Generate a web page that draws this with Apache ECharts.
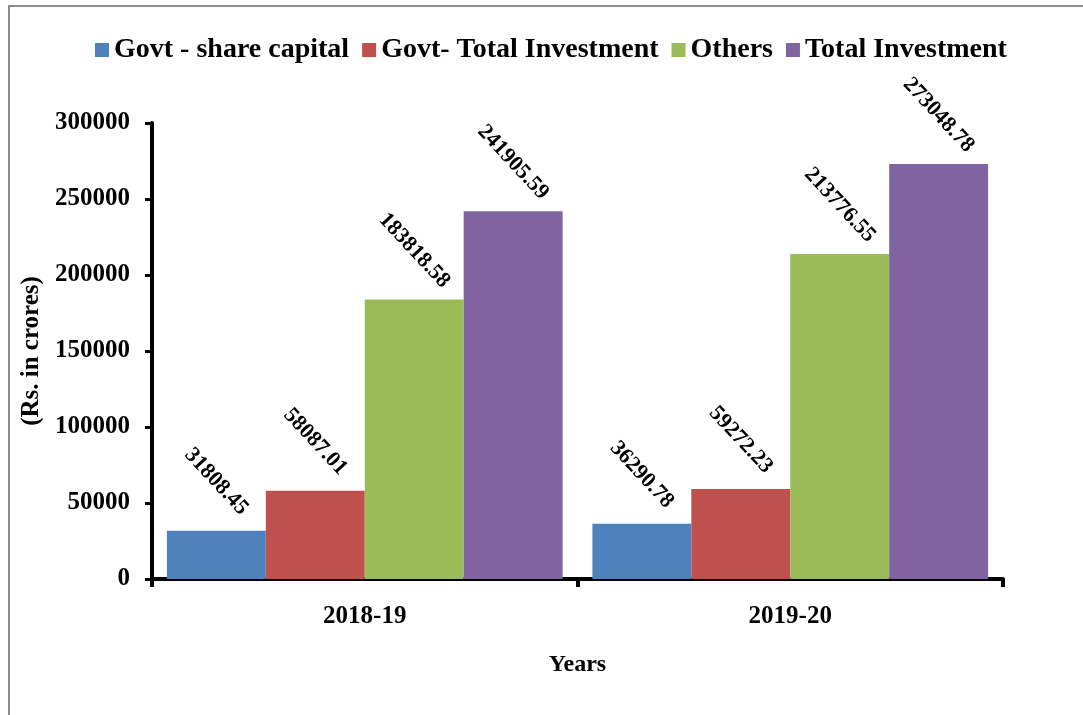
<!DOCTYPE html>
<html>
<head>
<meta charset="utf-8">
<script src="https://cdn.jsdelivr.net/npm/echarts@6/dist/echarts.min.js"></script>
<style>
  html, body { margin: 0; padding: 0; background: #fff; }
  #chart { width: 1083px; height: 715px; }
  .frame {
    position: absolute;
    left: 8px;
    top: 5px;
    width: 1100px;
    height: 740px;
    border: 2px solid #8c8c8c;
    pointer-events: none;
  }
</style>
</head>
<body>
<div id="chart"></div>
<div class="frame"></div>
<script>
const years = ['2018-19', '2019-20']
const seriesNames = ['Govt - share capital', 'Govt- Total Investment', 'Others', 'Total Investment']
const govtShareCapital = [31808.45, 36290.78]
const govtTotalInvestment = [58087.01, 59272.23]
const others = [183818.58, 213776.55]
const totalInvestment = [241905.59, 273048.78]
const colors = ['#4F81BD', '#C0504D', '#9BBB59', '#8064A2']

const font = '"Liberation Serif", "Times New Roman", serif'

const chart = echarts.init(document.getElementById('chart'))

const makeSeries = (name, data, color) => ({
  name,
  type: 'bar',
  data,
  barGap: '0%',
  barCategoryGap: '7%',
  itemStyle: { color },
  label: {
    show: true,
    position: 'top',
    distance: 49,
    rotate: -47,
    align: 'center',
    verticalAlign: 'middle',
    color: '#000',
    fontFamily: font,
    fontWeight: 'bold',
    fontSize: 22,
    formatter: (p) => p.value.toFixed(2),
  },
})

chart.setOption({
  animation: false,
  color: colors,
  legend: {
    left: 95,
    top: 36,
    padding: 0,
    itemWidth: 14,
    itemHeight: 14,
    itemGap: 13,
    icon: 'rect',
    textStyle: { fontFamily: font, fontWeight: 'bold', fontSize: 28, color: '#000' },
  },
  grid: { left: 152, right: 80, top: 123, bottom: 136 },
  xAxis: {
    type: 'category',
    data: years,
    name: 'Years',
    nameLocation: 'middle',
    nameGap: 74,
    nameTextStyle: { fontFamily: font, fontWeight: 'bold', fontSize: 24, color: '#000' },
    axisLine: { lineStyle: { color: '#000', width: 4 } },
    axisTick: { show: true, length: 8, lineStyle: { color: '#000', width: 4 } },
    axisLabel: { margin: 25, fontFamily: font, fontWeight: 'bold', fontSize: 25, color: '#000' },
  },
  yAxis: {
    type: 'value',
    min: 0,
    max: 300000,
    interval: 50000,
    name: '(Rs. in crores)',
    nameLocation: 'middle',
    nameRotate: 90,
    nameGap: 104,
    nameTextStyle: { fontFamily: font, fontWeight: 'bold', fontSize: 25, color: '#000' },
    axisLine: { show: true, lineStyle: { color: '#000', width: 4 } },
    axisTick: { show: true, length: 7, lineStyle: { color: '#000', width: 3 } },
    splitLine: { show: false },
    axisLabel: {
      margin: 22,
      fontFamily: font,
      fontWeight: 'bold',
      fontSize: 25,
      color: '#000',
      formatter: (v) => String(v),
    },
  },
  series: [
    makeSeries(seriesNames[0], govtShareCapital, colors[0]),
    makeSeries(seriesNames[1], govtTotalInvestment, colors[1]),
    makeSeries(seriesNames[2], others, colors[2]),
    makeSeries(seriesNames[3], totalInvestment, colors[3]),
  ],
})
</script>
</body>
</html>
